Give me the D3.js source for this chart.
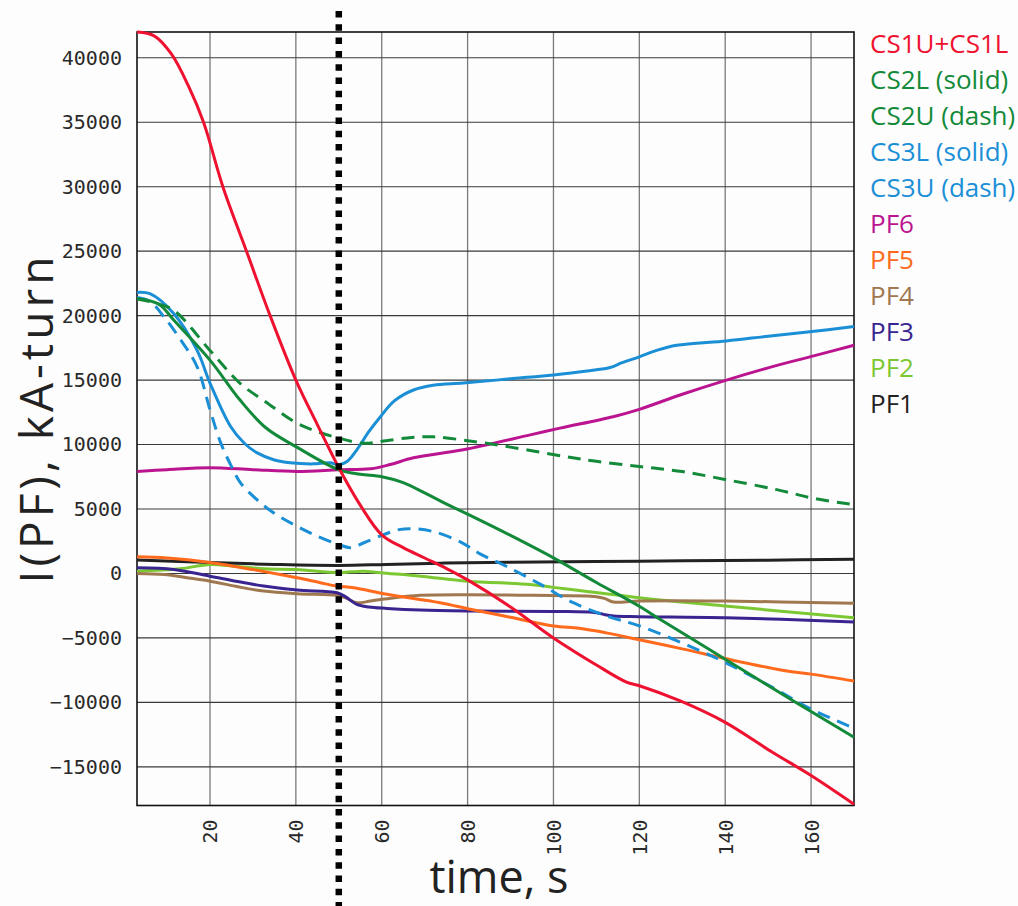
<!DOCTYPE html>
<html>
<head>
<meta charset="utf-8">
<script src="https://cdn.jsdelivr.net/npm/d3@7/dist/d3.min.js"></script>
<style>
  html, body { margin: 0; padding: 0; background: #fdfdfd; }
  svg { display: block; }
</style>
</head>
<body>
<svg id="chart" width="1018" height="906"></svg>
<script>
// ---------------- DATA ----------------
const xTicks = [20, 40, 60, 80, 100, 120, 140, 160];
const yTicks = [-15000, -10000, -5000, 0, 5000, 10000, 15000, 20000, 25000, 30000, 35000, 40000];
const xDomain = [3, 170];
const yDomain = [-18000, 42000];
const markerTime = 50;

const legendLabels = ["CS1U+CS1L", "CS2L (solid)", "CS2U (dash)", "CS3L (solid)", "CS3U (dash)",
                      "PF6", "PF5", "PF4", "PF3", "PF2", "PF1"];

const cs1Time = [3, 7, 11, 15, 18.5, 23, 28.5, 34, 40, 45, 50, 55, 60, 65, 70, 75, 80, 90, 100, 110, 117, 120, 129.4, 140, 151, 160, 170];
const cs1Vals = [42000, 41700, 40300, 37800, 35000, 30000, 25000, 20000, 15000, 11550, 8200, 5300, 3000, 2000, 1200, 400, -500, -2600, -5000, -7100, -8430, -8710, -9870, -11550, -13870, -15670, -17900];

const cs2lTime = [3, 8, 11.6, 20, 27, 33, 40, 50, 55, 60, 65, 70, 75, 80, 90, 100, 110, 120, 124.8, 140, 155.8, 170];
const cs2lVals = [21300, 20900, 19640, 16550, 13450, 11300, 9840, 8040, 7700, 7500, 7050, 6250, 5400, 4600, 2950, 1210, -700, -2550, -3560, -6650, -9870, -12710];

const cs2uTime = [3, 7, 11.6, 20, 27, 33, 40, 45, 50, 55.7, 61, 67, 72, 80, 90, 102.7, 110, 120, 130, 140.3, 152, 161, 170];
const cs2uVals = [21300, 21000, 20400, 17300, 14750, 13300, 11700, 11000, 10500, 10100, 10300, 10550, 10600, 10300, 9800, 9070, 8700, 8300, 7900, 7270, 6500, 5800, 5340];

const cs3lTime = [3, 6, 11.5, 17, 20, 24.8, 28, 31, 35, 38.7, 44, 48, 50, 52, 54.2, 57, 59.7, 63, 67.4, 72, 79, 90, 101.5, 110, 113.2, 116, 120, 124, 128.7, 140.3, 150, 159.7, 170];
const cs3lVals = [21800, 21700, 20180, 17300, 14770, 11400, 10100, 9350, 8800, 8580, 8500, 8580, 8430, 8700, 9590, 11000, 12160, 13400, 14230, 14600, 14770, 15100, 15460, 15800, 15980, 16350, 16800, 17300, 17700, 18040, 18400, 18740, 19150];

const cs3uTime = [3, 6, 9.3, 13, 17, 20, 22.5, 25, 27.1, 31, 34.8, 40, 45, 50, 52.7, 56, 60.4, 64, 67.4, 72, 78.3, 83, 89, 97, 104.6, 112.4, 120, 131.8, 140, 151, 160, 170];
const cs3uVals = [21400, 21100, 19900, 18200, 16030, 12700, 10130, 8300, 7030, 5700, 4700, 3700, 2890, 2240, 2000, 2400, 3000, 3400, 3470, 3250, 2450, 1500, 560, -850, -2270, -3300, -4070, -5650, -6900, -8840, -10520, -12000];

const pf6Time = [3, 10, 20, 30, 40.3, 50, 57.4, 62, 67.4, 79, 94.6, 101.5, 113.9, 120, 130, 140.3, 150, 159.7, 170];
const pf6Vals = [7910, 8050, 8200, 8050, 7910, 8040, 8120, 8450, 8970, 9590, 10750, 11270, 12160, 12730, 13900, 15000, 15950, 16800, 17700];

const pf5Time = [3, 10, 20, 30, 40.3, 45.7, 49.6, 53.5, 61.2, 73.6, 80.6, 90, 100, 106, 112, 120, 130, 140, 154, 160, 170];
const pf5Vals = [1290, 1200, 850, 300, -340, -720, -980, -1110, -1620, -2270, -2780, -3400, -4070, -4250, -4590, -5150, -5850, -6600, -7550, -7810, -8350];

const pf4Time = [3, 9.3, 15, 20, 26, 32.5, 40.3, 49.6, 51.5, 54.2, 57.4, 61.2, 69, 80, 95, 110, 112, 114, 120, 140, 170];
const pf4Vals = [0, -80, -350, -600, -1000, -1370, -1570, -1700, -1880, -2270, -2140, -1960, -1700, -1650, -1700, -1800, -1950, -2220, -2140, -2140, -2320];

const pf3Time = [3, 11.6, 20, 26, 32.5, 40.3, 49.6, 51.5, 54.2, 57, 61.2, 69, 80, 100, 110, 112, 114, 120, 140, 170];
const pf3Vals = [440, 310, -210, -600, -980, -1290, -1500, -1800, -2400, -2600, -2710, -2840, -2910, -2950, -3040, -3200, -3300, -3350, -3430, -3760];

const pf2Time = [3, 13, 20, 26, 32.5, 40, 50, 55.7, 59.7, 69, 80, 94.6, 100, 120, 140, 170];
const pf2Vals = [180, 360, 700, 550, 360, 310, 60, 180, 50, -210, -600, -850, -1080, -1880, -2530, -3430];

const pf1Time = [3, 20, 35, 50, 61, 73.6, 90, 120, 150, 170];
const pf1Vals = [1050, 850, 700, 620, 700, 800, 870, 950, 1030, 1100];

// ---------------- SERIES ----------------
const series = [
  { name: legendLabels[9],  color: "#7cc832", dash: false, t: pf2Time,  v: pf2Vals },
  { name: legendLabels[10], color: "#222222", dash: false, t: pf1Time,  v: pf1Vals },
  { name: legendLabels[7],  color: "#a07850", dash: false, t: pf4Time,  v: pf4Vals },
  { name: legendLabels[8],  color: "#3a2490", dash: false, t: pf3Time,  v: pf3Vals },
  { name: legendLabels[6],  color: "#ff6a1c", dash: false, t: pf5Time,  v: pf5Vals },
  { name: legendLabels[5],  color: "#bb1490", dash: false, t: pf6Time,  v: pf6Vals },
  { name: legendLabels[4],  color: "#1b8fd6", dash: true,  t: cs3uTime, v: cs3uVals },
  { name: legendLabels[3],  color: "#1b8fd6", dash: false, t: cs3lTime, v: cs3lVals },
  { name: legendLabels[2],  color: "#138a3a", dash: true,  t: cs2uTime, v: cs2uVals },
  { name: legendLabels[1],  color: "#138a3a", dash: false, t: cs2lTime, v: cs2lVals },
  { name: legendLabels[0],  color: "#ee1230", dash: false, t: cs1Time,  v: cs1Vals }
];
const legendColors = ["#ee1230", "#138a3a", "#138a3a", "#1b8fd6", "#1b8fd6",
                      "#bb1490", "#ff6a1c", "#a07850", "#3a2490", "#7cc832", "#222222"];

// ---------------- LAYOUT ----------------
const svg = d3.select("#chart");
const L = 137, R = 854, T = 32, B = 805.5;
const x = d3.scaleLinear().domain(xDomain).range([L, R]);
const y = d3.scaleLinear().domain(yDomain).range([B, T]);

// grid
const grid = svg.append("g");
grid.selectAll("line.vg").data(xTicks).join("line")
  .attr("x1", d => x(d)).attr("x2", d => x(d))
  .attr("y1", T).attr("y2", B)
  .attr("stroke", "#7a7a7a").attr("stroke-width", 1.3);
grid.selectAll("line.hg").data(yTicks).join("line")
  .attr("x1", L).attr("x2", R)
  .attr("y1", d => y(d)).attr("y2", d => y(d))
  .attr("stroke", "#3a3a3a").attr("stroke-width", 1.1);

// frame
svg.append("rect").attr("x", L).attr("y", T).attr("width", R - L).attr("height", B - T)
  .attr("fill", "none").attr("stroke", "#111").attr("stroke-width", 1.6);

// axes (labels via d3 axes)
const yAxis = d3.axisLeft(y).tickValues(yTicks).tickSize(0).tickPadding(15).tickFormat(d3.format("d"));
const gy = svg.append("g").attr("transform", `translate(${L},0)`).call(yAxis);
gy.select(".domain").remove();
gy.selectAll("text")
  .attr("font-family", "DejaVu Sans Mono, monospace")
  .attr("font-size", 20).attr("fill", "#2a2a2a");

const xAxis = d3.axisBottom(x).tickValues(xTicks).tickSize(0).tickFormat(d3.format("d"));
const gx = svg.append("g").attr("transform", `translate(0,${B})`).call(xAxis);
gx.select(".domain").remove();
gx.selectAll("text")
  .attr("font-family", "DejaVu Sans Mono, monospace")
  .attr("font-size", 20).attr("fill", "#2a2a2a")
  .attr("text-anchor", "end")
  .attr("transform", "translate(0,14) rotate(-90)")
  .attr("x", 0).attr("y", 0).attr("dy", "0.35em");

// clip
svg.append("clipPath").attr("id", "clip").append("rect")
  .attr("x", L).attr("y", T - 2).attr("width", R - L + 1).attr("height", B - T + 4);

// lines
const line = d3.line()
  .x(d => x(d[0])).y(d => y(d[1]))
  .curve(d3.curveCatmullRom.alpha(0.5));

const lg = svg.append("g").attr("clip-path", "url(#clip)");
series.forEach(s => {
  const pts = s.t.map((t, i) => [t, s.v[i]]);
  lg.append("path").datum(pts)
    .attr("d", line)
    .attr("fill", "none")
    .attr("stroke", s.color)
    .attr("stroke-width", 3)
    .attr("stroke-linejoin", "round")
    .attr("stroke-dasharray", s.dash ? "13 8" : null);
});

// vertical dotted marker
svg.append("line")
  .attr("x1", x(markerTime)).attr("x2", x(markerTime))
  .attr("y1", 11).attr("y2", 906)
  .attr("stroke", "#000").attr("stroke-width", 6.5)
  .attr("stroke-dasharray", "6.5 6.8");

// legend
svg.append("g").selectAll("text").data(legendLabels).join("text")
  .attr("x", 870).attr("y", (d, i) => 53 + i * 36)
  .attr("font-family", "Open Sans, sans-serif")
  .attr("font-size", 26)
  .attr("fill", (d, i) => legendColors[i])
  .text(d => d);

// axis titles
svg.append("text")
  .attr("transform", "translate(53,418) rotate(-90)")
  .attr("text-anchor", "middle")
  .attr("font-family", "Open Sans, sans-serif")
  .attr("font-size", 46).attr("letter-spacing", 4).attr("fill", "#222")
  .text("I(PF), kA-turn");

svg.append("text")
  .attr("x", 499).attr("y", 893)
  .attr("text-anchor", "middle")
  .attr("font-family", "Open Sans, sans-serif")
  .attr("font-size", 45).attr("fill", "#222")
  .text("time, s");
</script>
</body>
</html>
